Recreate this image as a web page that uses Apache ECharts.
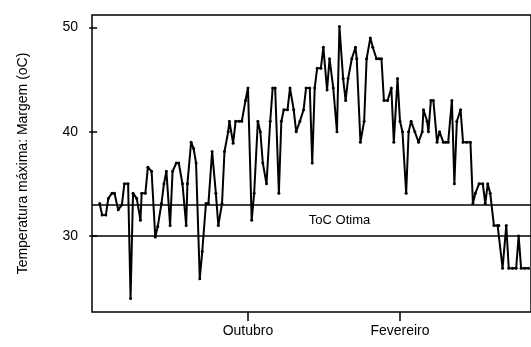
<!DOCTYPE html>
<html><head><meta charset="utf-8">
<script src="https://cdn.jsdelivr.net/npm/echarts@6/dist/echarts.min.js"></script>
<style>html,body{margin:0;padding:0;background:#fff}#c{width:531px;height:347px}</style>
</head><body><div id="c"></div>
<script>
// day number counted from 1 June
const days = [2,4,7,9,12,14,17,20,22,25,27,29,32,35,36,39,41,44,47,49,52,54,56,59,61,64,66,69,72,73,76,78,80,83,85,88,90,93,96,98,101,103,106,107,110,112,115,
117,120,122,125,127,130,132,134,137,140,142,144,147,149,151,154,156,159,161,164,167,169,172,174,176,178,181,183,186,188,191,194,196,199,201,203,206,209,210,213,216,218,221,223,226,228,
230,232,235,238,240,243,245,247,250,252,254,257,260,263,264,267,268,270,272,275,277,280,282,284,287,289,291,294,296,299,302,304,306,309,312,314,316,318,321,324,325,328,331,333,336,339,341,343,346,349];
const temps = [33.1,32.0,32.0,33.6,34.1,34.1,32.5,33.0,35.0,35.0,24.0,34.1,33.6,31.5,34.1,34.1,36.6,36.2,29.9,30.9,33.1,35.0,36.2,31.0,36.2,37.0,37.0,35.0,31.0,35.0,39.0,38.4,37.0,25.9,28.5,33.1,33.1,38.1,34.1,31.0,33.1,38.1,40.0,41.0,38.9,41.0,41.0,
41.0,43.0,44.2,31.5,34.1,41.0,40.0,37.0,35.0,41.0,44.2,44.2,34.1,41.0,42.1,42.1,44.2,42.1,40.0,41.0,42.1,44.2,44.2,37.0,44.2,46.1,46.1,48.1,44.0,47.0,44.2,40.0,50.1,45.1,43.0,45.1,47.0,48.1,47.0,39.0,41.0,47.0,49.0,48.1,47.0,47.0,
47.0,43.0,43.0,44.2,39.0,45.1,41.0,40.0,34.1,40.0,41.0,40.0,39.0,40.0,42.1,41.0,40.0,43.0,43.0,39.0,40.0,39.0,39.0,39.0,43.0,35.0,41.0,42.1,39.0,39.0,39.0,33.1,34.1,35.0,35.0,33.1,35.0,34.1,31.0,31.0,31.0,26.9,31.0,26.9,26.9,26.9,30.0,26.9,26.9,26.9];
const yTicks = [30, 40, 50];
const monthTickDays = [122, 245];
const monthTickLabels = ['Outubro', 'Fevereiro'];
const optimumLow = 30, optimumHigh = 33;
const optimumLabel = 'ToC Otima';
const yTitle = 'Temperatura máxima: Margem (oC)';

const chart = echarts.init(document.getElementById('c'));
const font = 'Liberation Sans, Arial, sans-serif';
chart.setOption({
  animation: false,
  grid: {left: 92, right: 0, top: 15, bottom: 35, show: true, borderColor: '#000', borderWidth: 1.5, backgroundColor: 'transparent'},
  xAxis: {
    type: 'value', min: -4.2, max: 351,
    axisLine: {show: false},
    splitLine: {show: false},
    axisTick: {show: true, customValues: monthTickDays, length: 9, lineStyle: {color: '#000', width: 1.5}},
    axisLabel: {customValues: monthTickDays, color: '#000', fontFamily: font, fontSize: 14, margin: 12,
      formatter: v => monthTickLabels[monthTickDays.indexOf(v)] || ''}
  },
  yAxis: {
    type: 'value', min: 22.7, max: 51.2,
    name: yTitle, nameLocation: 'middle', nameGap: 62, nameRotate: 90,
    nameTextStyle: {color: '#000', fontFamily: font, fontSize: 14},
    axisLine: {show: false},
    splitLine: {show: false},
    axisTick: {show: true, customValues: yTicks, length: 8, lineStyle: {color: '#000', width: 1.5}},
    axisLabel: {customValues: yTicks, color: '#000', fontFamily: font, fontSize: 14, margin: 14}
  },
  series: [{
    type: 'line',
    data: days.map((d, i) => [d, temps[i]]),
    symbol: 'circle', symbolSize: 3, showSymbol: true,
    itemStyle: {color: '#000'},
    lineStyle: {color: '#000', width: 2},
    markLine: {
      silent: true, symbol: 'none', label: {show: false},
      lineStyle: {color: '#000', width: 1.5, type: 'solid'},
      data: [{yAxis: optimumHigh}, {yAxis: optimumLow}]
    },
    markArea: {
      silent: true, itemStyle: {color: 'transparent'},
      label: {show: true, position: 'inside', color: '#000', fontFamily: font, fontSize: 13, offset: [28, 0]},
      data: [[{yAxis: optimumLow, name: optimumLabel}, {yAxis: optimumHigh}]]
    }
  }]
});
</script></body></html>
